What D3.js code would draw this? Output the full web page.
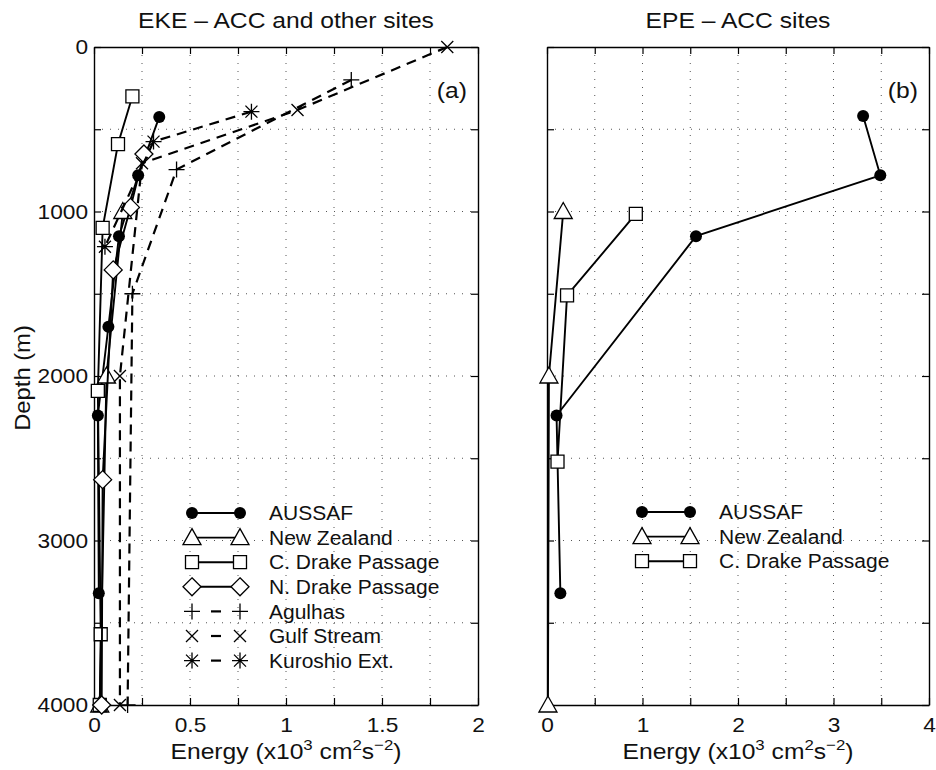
<!DOCTYPE html>
<html>
<head>
<meta charset="utf-8">
<script src="https://cdn.jsdelivr.net/npm/d3@7"></script>
<style>
   body { margin: 0; background: #fff; }
   svg { font-family: "Liberation Sans", Arial, Helvetica, sans-serif; }
</style>
</head>
<body>
<script>
"use strict"

// ---- data (energy in 10^3 cm^2 s^-2, depth in m) ----
const ekeNames = ['AUSSAF', 'New Zealand', 'C. Drake Passage', 'N. Drake Passage', 'Agulhas', 'Gulf Stream', 'Kuroshio Ext.']
const ekeMarkers = ['circle', 'triangle', 'square', 'diamond', 'plus', 'cross', 'star']
const ekeDashed = [false, false, false, false, true, true, true]

const aussafEkeE = [0.34, 0.23, 0.13, 0.075, 0.02, 0.025]
const aussafEkeZ = [425, 780, 1150, 1700, 2240, 3320]
const nzEkeE = [0.15, 0.065, 0.03]
const nzEkeZ = [1000, 2000, 4000]
const cDrakeEkeE = [0.2, 0.125, 0.045, 0.02, 0.035, 0.03]
const cDrakeEkeZ = [300, 590, 1100, 2090, 3570, 4000]
const nDrakeEkeE = [0.26, 0.19, 0.1, 0.045, 0.04]
const nDrakeEkeZ = [650, 975, 1355, 2630, 4000]
const agulhasE = [1.34, 0.43, 0.2, 0.175]
const agulhasZ = [200, 745, 1500, 4000]
const gulfE = [1.84, 1.06, 0.25, 0.135, 0.135]
const gulfZ = [0, 383, 707, 2000, 4000]
const kuroshioE = [0.82, 0.31, 0.057]
const kuroshioZ = [393, 575, 1214]

const epeNames = ['AUSSAF', 'New Zealand', 'C. Drake Passage']
const epeMarkers = ['circle', 'triangle', 'square']
const aussafEpeE = [3.31, 3.49, 1.56, 0.1, 0.14]
const aussafEpeZ = [420, 780, 1150, 2240, 3320]
const nzEpeE = [0.17, 0.02, 0.01]
const nzEpeZ = [1000, 2000, 4000]
const cDrakeEpeE = [0.93, 0.21, 0.11]
const cDrakeEpeZ = [1015, 1510, 2520]

const ekeTicks = [0, 0.25, 0.5, 0.75, 1, 1.25, 1.5, 1.75, 2]
const ekeTickLabels = [0, 0.5, 1, 1.5, 2]
const epeTicks = [0, 0.5, 1, 1.5, 2, 2.5, 3, 3.5, 4]
const epeTickLabels = [0, 1, 2, 3, 4]
const depthTicks = [0, 500, 1000, 1500, 2000, 2500, 3000, 3500, 4000]
const depthTickLabels = [0, 1000, 2000, 3000, 4000]

const zip = (e, z) => e.map((v, i) => [v, z[i]])
const ekeSeries = [
   zip(aussafEkeE, aussafEkeZ), zip(nzEkeE, nzEkeZ), zip(cDrakeEkeE, cDrakeEkeZ),
   zip(nDrakeEkeE, nDrakeEkeZ), zip(agulhasE, agulhasZ), zip(gulfE, gulfZ), zip(kuroshioE, kuroshioZ)
]
const epeSeries = [zip(aussafEpeE, aussafEpeZ), zip(nzEpeE, nzEpeZ), zip(cDrakeEpeE, cDrakeEpeZ)]

// ---- layout ----
const w = 936
const h = 770
const yTop = 47
const yBottom = 705
const stretchK = 1.12

let svg = d3.select('body')
   .append('svg')
      .attr('width', w)
      .attr('height', h)

// MATLAB-ish marker shapes
function markerPath(type) {
   switch (type) {
      case 'triangle': return 'M0,-9L9,7L-9,7Z'
      case 'square': return 'M-6.5,-6.5H6.5V6.5H-6.5Z'
      case 'diamond': return 'M0,-9L9,0L0,9L-9,0Z'
      case 'plus': return 'M-8,0H8M0,-8V8'
      case 'cross': return 'M-6,-6L6,6M-6,6L6,-6'
      case 'star': return 'M-8,0H8M0,-8V8M-6,-6L6,6M-6,6L6,-6'
   }
}

function drawMarker(g, type, cx, cy) {
   if (type === 'circle') {
      g.append('circle')
         .attr('cx', cx).attr('cy', cy).attr('r', 6)
         .attr('fill', '#000')
   } else {
      g.append('path')
         .attr('d', markerPath(type))
         .attr('transform', `translate(${cx},${cy})`)
         .attr('fill', ['plus', 'cross', 'star'].includes(type) ? 'none' : '#fff')
         .attr('stroke', '#000')
         .attr('stroke-width', 1.3)
   }
}

function stretch(sel, k) {
   sel.each(function () {
      const L = this.getComputedTextLength()
      d3.select(this).attr('textLength', L * k).attr('lengthAdjust', 'spacingAndGlyphs')
   })
}

function panel(opt) {
   const x = d3.scaleLinear([0, opt.xmax], [opt.x0, opt.x1])
   const y = d3.scaleLinear([0, 4000], [yTop, yBottom])
   const g = svg.append('g')

   // dotted grid
   const grid = g.append('g')
   grid.append('g').selectAll('line')
      .data(opt.xTicks.slice(1, -1))
      .enter().append('line')
         .attr('x1', d => x(d)).attr('x2', d => x(d))
         .attr('y1', yTop).attr('y2', yBottom)
   grid.append('g').selectAll('line')
      .data(depthTicks.slice(1, -1))
      .enter().append('line')
         .attr('x1', opt.x0).attr('x2', opt.x1)
         .attr('y1', d => y(d)).attr('y2', d => y(d))
   grid.selectAll('line')
      .attr('stroke', '#555')
      .attr('stroke-width', 1)
      .attr('stroke-dasharray', '1,7')

   // box with inward ticks
   const fmtX = d => opt.xLabels.includes(d) ? String(d) : ''
   const fmtY = d => (opt.yLabels && depthTickLabels.includes(d)) ? d : ''
   const axes = [
      g.append('g').attr('transform', `translate(0,${yBottom})`)
         .call(d3.axisBottom(x).tickValues(opt.xTicks).tickSize(-7).tickSizeOuter(0).tickPadding(12).tickFormat(fmtX)),
      g.append('g').attr('transform', `translate(0,${yTop})`)
         .call(d3.axisTop(x).tickValues(opt.xTicks).tickSize(-7).tickSizeOuter(0).tickFormat('')),
      g.append('g').attr('transform', `translate(${opt.x0},0)`)
         .call(d3.axisLeft(y).tickValues(depthTicks).tickSize(-7).tickSizeOuter(0).tickPadding(6).tickFormat(fmtY)),
      g.append('g').attr('transform', `translate(${opt.x1},0)`)
         .call(d3.axisRight(y).tickValues(depthTicks).tickSize(-7).tickSizeOuter(0).tickFormat(''))
   ]
   axes.forEach(a => {
      a.select('.domain').attr('stroke-width', 1.4)
      a.selectAll('.tick line').attr('stroke-width', 1.2)
      a.selectAll('text').attr('font-size', 21).attr('fill', '#111').attr('font-family', null)
   })
   stretch(axes[0].selectAll('text').filter(function () { return this.textContent !== '' }), 1.08)
   stretch(axes[2].selectAll('text').filter(function () { return this.textContent !== '' }), 1.08)

   // series
   const line = d3.line().x(d => x(d[0])).y(d => y(d[1]))
   opt.series.forEach((s, i) => {
      const sg = g.append('g')
      sg.append('path')
         .attr('d', line(s))
         .attr('fill', 'none')
         .attr('stroke', '#000')
         .attr('stroke-width', opt.dashed[i] ? 2.2 : 1.9)
         .attr('stroke-dasharray', opt.dashed[i] ? '10,7' : null)
      s.forEach(d => drawMarker(sg, opt.markers[i], x(d[0]), y(d[1])))
   })

   // legend
   const lg = g.append('g')
   opt.names.forEach((name, i) => {
      const ly = opt.legY + i * opt.legStep
      const a = opt.legX
      const b = opt.legX + 48
      const row = lg.append('g')
      row.append('line')
         .attr('x1', opt.dashed[i] ? a + 19 : a).attr('x2', opt.dashed[i] ? b - 19 : b)
         .attr('y1', ly).attr('y2', ly)
         .attr('stroke', '#000')
         .attr('stroke-width', opt.dashed[i] ? 2.2 : 1.9)
      drawMarker(row, opt.markers[i], a, ly)
      drawMarker(row, opt.markers[i], b, ly)
      row.append('text')
         .attr('x', b + 29).attr('y', ly).attr('dy', '0.36em')
         .attr('font-size', 20).attr('fill', '#111')
         .text(name)
   })
   stretch(lg.selectAll('text'), 1.05)

   // panel tag
   svg.append('text')
      .attr('x', opt.x1 - 11).attr('y', 98)
      .attr('text-anchor', 'end')
      .attr('font-size', 22).attr('fill', '#111')
      .text(opt.tag)
      .call(stretch, stretchK)

   // title
   svg.append('text')
      .attr('x', (opt.x0 + opt.x1) / 2).attr('y', 28)
      .attr('text-anchor', 'middle')
      .attr('font-size', 22).attr('fill', '#111')
      .text(opt.title)
      .call(stretch, stretchK)

   // x label with superscripts
   const xl = svg.append('text')
      .attr('x', (opt.x0 + opt.x1) / 2).attr('y', 759)
      .attr('text-anchor', 'middle')
      .attr('font-size', 22).attr('fill', '#111')
   xl.append('tspan').text('Energy (x10')
   xl.append('tspan').attr('dy', -9).attr('font-size', 15).text('3')
   xl.append('tspan').attr('dy', 9).text(' cm')
   xl.append('tspan').attr('dy', -9).attr('font-size', 15).text('2')
   xl.append('tspan').attr('dy', 9).text('s')
   xl.append('tspan').attr('dy', -9).attr('font-size', 15).text('\u22122')
   xl.append('tspan').attr('dy', 9).text(')')
   stretch(xl, stretchK)
}

panel({
   x0: 94, x1: 478, xmax: 2, xTicks: ekeTicks, xLabels: ekeTickLabels, yLabels: true,
   series: ekeSeries, names: ekeNames, markers: ekeMarkers, dashed: ekeDashed,
   legX: 192, legY: 513, legStep: 24.6,
   tag: '(a)', title: 'EKE \u2013 ACC and other sites'
})

panel({
   x0: 547, x1: 929, xmax: 4, xTicks: epeTicks, xLabels: epeTickLabels, yLabels: false,
   series: epeSeries, names: epeNames, markers: epeMarkers, dashed: [false, false, false],
   legX: 642, legY: 512, legStep: 24.6,
   tag: '(b)', title: 'EPE \u2013 ACC sites'
})

// y label
svg.append('text')
   .attr('transform', 'translate(30,378) rotate(-90)')
   .attr('text-anchor', 'middle')
   .attr('font-size', 22).attr('fill', '#111')
   .text('Depth (m)')
   .call(stretch, 1.08)
</script>
</body>
</html>
